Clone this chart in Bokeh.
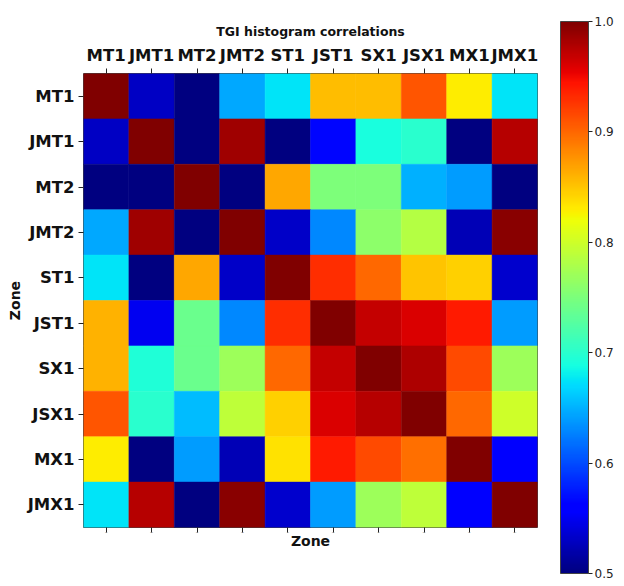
import numpy as np
from bokeh.plotting import figure
from bokeh.models import (LinearColorMapper, FactorRange, CategoricalAxis, ColorBar,
                          ColumnDataSource, FixedTicker, PrintfTickFormatter)
from bokeh.transform import transform
from bokeh.embed import file_html
from bokeh.resources import INLINE

# ---- data ----
zones = ["MT1", "JMT1", "MT2", "JMT2", "ST1", "JST1", "SX1", "JSX1", "MX1", "JMX1"]

corr_MT1  = [1.000, 0.530, 0.500, 0.645, 0.675, 0.855, 0.855, 0.910, 0.830, 0.675]
corr_JMT1 = [0.530, 1.000, 0.500, 0.985, 0.500, 0.565, 0.690, 0.700, 0.500, 0.975]
corr_MT2  = [0.500, 0.500, 1.000, 0.500, 0.867, 0.750, 0.750, 0.650, 0.640, 0.500]
corr_JMT2 = [0.645, 0.985, 0.500, 1.000, 0.533, 0.630, 0.760, 0.785, 0.525, 0.995]
corr_ST1  = [0.675, 0.500, 0.867, 0.533, 1.000, 0.930, 0.900, 0.850, 0.845, 0.535]
corr_JST1 = [0.860, 0.550, 0.740, 0.630, 0.930, 1.000, 0.970, 0.960, 0.940, 0.640]
corr_SX1  = [0.860, 0.695, 0.740, 0.770, 0.900, 0.970, 1.000, 0.980, 0.915, 0.770]
corr_JSX1 = [0.910, 0.700, 0.655, 0.790, 0.845, 0.960, 0.975, 1.000, 0.900, 0.800]
corr_MX1  = [0.830, 0.500, 0.640, 0.525, 0.835, 0.940, 0.915, 0.895, 1.000, 0.560]
corr_JMX1 = [0.675, 0.975, 0.500, 0.995, 0.535, 0.640, 0.770, 0.790, 0.560, 1.000]

corr_rows = [corr_MT1, corr_JMT1, corr_MT2, corr_JMT2, corr_ST1,
             corr_JST1, corr_SX1, corr_JSX1, corr_MX1, corr_JMX1]

cbar_ticks = [0.5, 0.6, 0.7, 0.8, 0.9, 1.0]

# ---- jet palette (colormap definition) ----
def jet_palette(n=256):
    t = np.linspace(0, 1, n)
    r = np.interp(t, [0, 0.35, 0.66, 0.89, 1], [0, 0, 1, 1, 0.5])
    g = np.interp(t, [0, 0.125, 0.375, 0.64, 0.91, 1], [0, 0, 1, 1, 0, 0])
    b = np.interp(t, [0, 0.11, 0.34, 0.65, 1], [0.5, 1, 1, 0, 0])
    return ["#%02x%02x%02x" % (int(round(rr * 255)), int(round(gg * 255)), int(round(bb * 255)))
            for rr, gg, bb in zip(r, g, b)]

palette = jet_palette()
mapper = LinearColorMapper(palette=palette, low=0.5, high=1.0)

xs, ys, vals = [], [], []
for rz, rvals in zip(zones, corr_rows):
    for cz, v in zip(zones, rvals):
        xs.append(cz)
        ys.append(rz)
        vals.append(v)
src = ColumnDataSource(dict(x=xs, y=ys, value=vals))

FONT = "DejaVu Sans"

p = figure(x_range=FactorRange(*zones), y_range=FactorRange(*reversed(zones)),
           width=616, height=587, x_axis_location="above",
           toolbar_location=None, output_backend="svg",
           min_border_left=83, min_border_top=73, min_border_right=79, min_border_bottom=60,
           title="TGI histogram correlations")
p.rect(x="x", y="y", width=1, height=1, source=src,
       fill_color=transform("value", mapper), line_color=transform("value", mapper), line_width=0.5)

p.title.align = "center"
p.title.text_font = FONT
p.title.text_font_style = "bold"
p.title.text_font_size = "12.5px"
p.title.text_color = "#111111"
p.title.standoff = 7

p.grid.visible = False
p.outline_line_color = "#444444"
p.outline_line_width = 1

for ax in [p.xaxis[0], p.yaxis[0]]:
    ax.axis_line_color = None
    ax.major_tick_out = 5
    ax.major_tick_in = 0
    ax.major_tick_line_color = "#222222"
    ax.major_label_text_font = FONT
    ax.major_label_text_font_style = "bold"
    ax.major_label_text_font_size = "16.5px"
    ax.major_label_text_color = "#111111"
    ax.major_label_standoff = 4

p.yaxis.axis_label = "Zone"
p.yaxis.axis_label_text_font = FONT
p.yaxis.axis_label_text_font_style = "bold"
p.yaxis.axis_label_text_font_size = "14px"
p.yaxis.axis_label_standoff = 2
p.yaxis.axis_label_text_color = "#111111"

bottom_axis = CategoricalAxis(axis_label="Zone", axis_line_color=None,
                              major_tick_out=5, major_tick_in=0,
                              major_tick_line_color="#222222",
                              major_label_overrides={z: " " for z in zones},
                              major_label_text_font_size="1px",
                              major_label_standoff=0,
                              axis_label_standoff=-4,
                              axis_label_text_font=FONT,
                              axis_label_text_font_style="bold",
                              axis_label_text_font_size="14px",
                              axis_label_text_color="#111111")
p.add_layout(bottom_axis, "below")

cbar = ColorBar(color_mapper=mapper, width=28, height=552, location=(477, -46),
                margin=0, padding=0,
                ticker=FixedTicker(ticks=cbar_ticks),
                formatter=PrintfTickFormatter(format="%.1f"),
                major_tick_out=4, major_tick_in=0, major_tick_line_color="#222222",
                minor_tick_line_color=None,
                bar_line_color="#444444", bar_line_width=1,
                label_standoff=2,
                major_label_text_font=FONT, major_label_text_font_size="12px",
                major_label_text_color="#222222",
                background_fill_alpha=0, border_line_color=None)
p.add_layout(cbar, "center")

open("out.html", "w").write(file_html(p, INLINE))
